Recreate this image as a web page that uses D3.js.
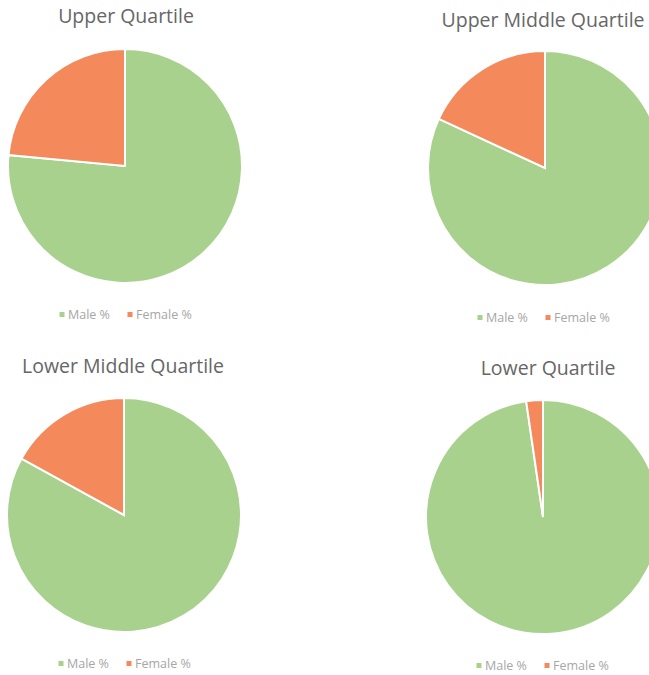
<!DOCTYPE html>
<html><head><meta charset="utf-8">
<script src="https://cdn.jsdelivr.net/npm/d3@7"></script>
<style>body{margin:0;background:#fff}svg{display:block}</style>
</head><body>
<script>
const titles = ["Upper Quartile","Upper Middle Quartile","Lower Middle Quartile","Lower Quartile"];
const seriesNames = ["Male %","Female %"];
const maleValues = [76.5, 81.9, 83.0, 97.7];
const femaleValues = [23.5, 18.1, 17.0, 2.3];
const colors = ["#a9d18e","#f4895c"];

const W=649,H=675;
const svg=d3.select("body").append("svg").attr("width",W).attr("height",H);
const layout=[
 {cx:125,cy:166,ty:23,tx:126,ly:319,lx:62},
 {cx:545,cy:168,ty:27,tx:543,ly:322,lx:480},
 {cx:124,cy:515,ty:373,tx:123,ly:668,lx:61},
 {cx:543,cy:517,ty:375,tx:548,ly:670,lx:479}
];
const r=117;
const pie=d3.pie().sort(null).value(d=>d.v);
const arc=d3.arc().innerRadius(0).outerRadius(r);
const color=d3.scaleOrdinal().domain(seriesNames).range(colors);
titles.forEach((t,i)=>{
  const L=layout[i];
  const data=[{k:seriesNames[0],v:maleValues[i]},{k:seriesNames[1],v:femaleValues[i]}];
  const g=svg.append("g").attr("transform",`translate(${L.cx},${L.cy})`);
  g.selectAll("path").data(pie(data)).join("path")
   .attr("d",arc).attr("fill",d=>color(d.data.k))
   .attr("stroke","#fff").attr("stroke-width",2);
  svg.append("text").attr("x",L.tx).attr("y",L.ty).attr("text-anchor","middle")
   .attr("font-family","'Open Sans',sans-serif").attr("font-size",19.5).attr("fill","#666").text(t);
  const lg=svg.append("g").attr("transform",`translate(${L.lx},${L.ly})`);
  const items=[{k:seriesNames[0],x:0},{k:seriesNames[1],x:68}];
  items.forEach(it=>{
    lg.append("rect").attr("x",it.x-2.5).attr("y",-7).attr("width",5).attr("height",5).attr("fill",color(it.k));
    lg.append("text").attr("x",it.x+6).attr("y",0).attr("font-family","'Open Sans',sans-serif")
      .attr("font-size",12.5).attr("fill","#a6a6a6").text(it.k);
  });
});
</script>
</body></html>
